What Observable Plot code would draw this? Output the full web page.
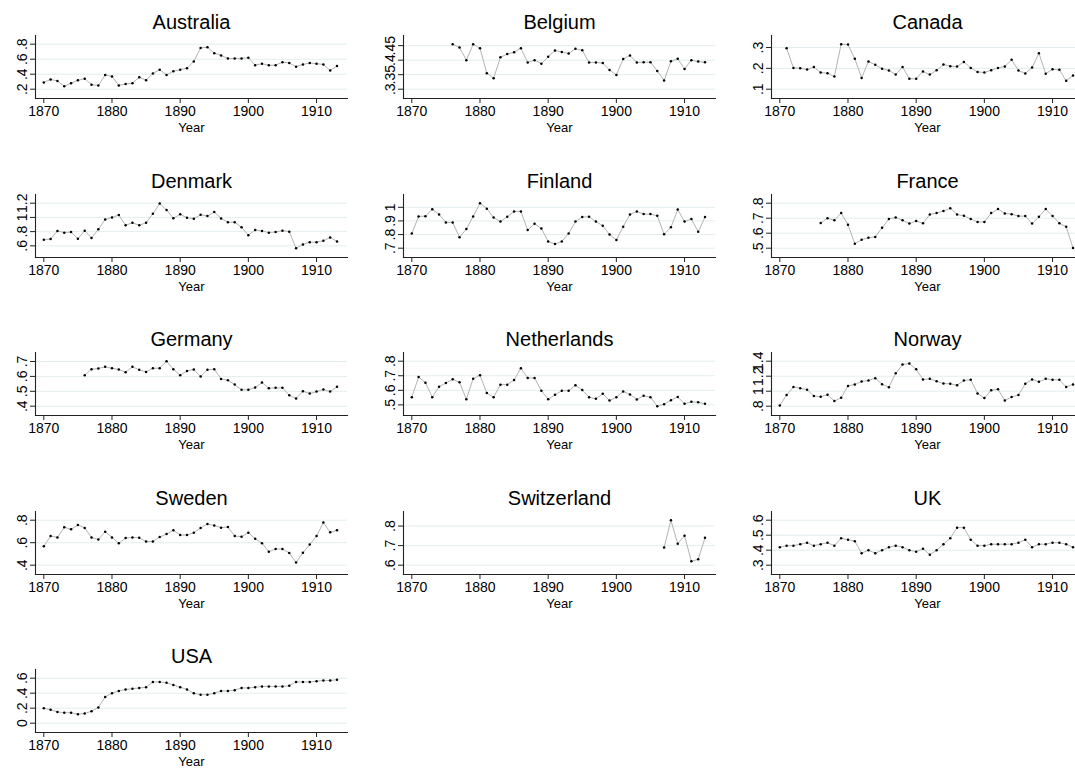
<!DOCTYPE html>
<html>
<head>
<meta charset="utf-8">
<script src="https://cdn.jsdelivr.net/npm/d3@7"></script>
<script src="https://cdn.jsdelivr.net/npm/@observablehq/plot@0.6"></script>
<style>
  html, body { margin: 0; padding: 0; background: #fff; }
  #chart { position: relative; width: 1075px; height: 768px; overflow: hidden; background: #fff; }
  .panel { position: absolute; width: 368px; height: 145px; }
  .panel svg { max-width: none !important; display: block; }
</style>
</head>
<body>
<div id="chart"></div>
<script>
const years = [1870,1871,1872,1873,1874,1875,1876,1877,1878,1879,
               1880,1881,1882,1883,1884,1885,1886,1887,1888,1889,
               1890,1891,1892,1893,1894,1895,1896,1897,1898,1899,
               1900,1901,1902,1903,1904,1905,1906,1907,1908,1909,
               1910,1911,1912,1913];
const xTicks = [1870, 1880, 1890, 1900, 1910];
const countries = ["Australia","Belgium","Canada","Denmark","Finland","France",
                   "Germany","Netherlands","Norway","Sweden","Switzerland","UK","USA"];

const australia = [.29,.33,.31,.24,.28,.32,.34,.26,.25,.39,
                   .37,.25,.27,.28,.36,.32,.41,.46,.39,.44,
                   .46,.48,.57,.75,.76,.68,.65,.61,.61,.61,
                   .62,.52,.54,.52,.52,.56,.55,.50,.53,.55,
                   .54,.53,.45,.51];
const belgium = [null,null,null,null,null,null,.455,.444,.40,.455,
                 .441,.355,.338,.41,.421,.427,.441,.392,.40,.388,
                 .412,.433,.428,.423,.439,.434,.392,.392,.39,.366,
                 .349,.404,.416,.392,.393,.393,.363,.33,.396,.405,
                 .37,.40,.395,.393];
const canada = [null,.297,.202,.201,.194,.206,.18,.177,.161,.316,
                .314,.246,.154,.233,.217,.198,.19,.17,.207,.15,
                .15,.185,.17,.191,.218,.21,.209,.231,.202,.183,
                .18,.191,.202,.209,.241,.19,.175,.204,.273,.174,
                .196,.193,.14,.166];
const denmark = [.686,.695,.81,.786,.795,.70,.814,.71,.833,.971,
                 1.0,1.033,.89,.924,.89,.924,1.052,1.195,1.105,.99,
                 1.043,.995,.981,1.038,1.019,1.076,.986,.933,.933,.862,
                 .75,.824,.81,.786,.795,.814,.80,.567,.62,.652,
                 .652,.671,.719,.662];
const finland = [.808,.933,.935,.985,.948,.888,.888,.78,.84,.933,
                 1.03,.99,.925,.895,.93,.97,.97,.833,.88,.845,
                 .75,.73,.75,.808,.895,.928,.93,.895,.865,.80,
                 .76,.858,.948,.97,.95,.95,.938,.803,.853,.983,
                 .895,.915,.82,.928];
const france = [null,null,null,null,null,null,.668,.70,.686,.734,
                .657,.53,.557,.57,.575,.636,.695,.705,.686,.664,
                .682,.666,.725,.734,.748,.766,.725,.716,.695,.675,
                .675,.734,.761,.732,.727,.714,.714,.664,.709,.761,
                .714,.666,.643,.502];
const germany = [null,null,null,null,null,null,.608,.648,.653,.664,
                 .655,.646,.628,.664,.644,.63,.655,.655,.702,.648,
                 .608,.637,.646,.599,.644,.648,.583,.574,.545,.51,
                 .51,.525,.559,.521,.523,.523,.474,.451,.50,.485,
                 .498,.512,.498,.53];
const netherlands = [.553,.692,.652,.553,.625,.65,.676,.655,.539,.68,
                     .703,.581,.553,.639,.639,.671,.752,.685,.685,.597,
                     .539,.569,.597,.597,.634,.602,.553,.542,.576,.53,
                     .553,.592,.572,.537,.562,.553,.491,.505,.532,.555,
                     .507,.521,.518,.507];
const norway = [.809,.949,1.057,1.039,1.021,.935,.926,.953,.868,.913,
                1.071,1.089,1.129,1.143,1.174,1.093,1.053,1.238,1.355,1.368,
                1.292,1.156,1.165,1.134,1.102,1.098,1.08,1.143,1.152,.971,
                .908,1.012,1.026,.877,.922,.949,1.098,1.156,1.125,1.165,
                1.152,1.152,1.057,1.09];
const sweden = [.568,.659,.647,.737,.719,.758,.731,.647,.629,.698,
                .647,.595,.641,.647,.644,.611,.611,.65,.677,.71,
                .668,.668,.689,.731,.767,.752,.734,.74,.659,.653,
                .689,.635,.595,.52,.544,.544,.508,.424,.511,.583,
                .659,.779,.692,.71];
const switzerland = [null,null,null,null,null,null,null,null,null,null,
                     null,null,null,null,null,null,null,null,null,null,
                     null,null,null,null,null,null,null,null,null,null,
                     null,null,null,null,null,null,null,.69,.83,.71,
                     .75,.62,.63,.74];
const uk = [.42,.43,.43,.44,.45,.43,.44,.45,.43,.48,
            .47,.46,.38,.40,.38,.40,.42,.43,.42,.40,
            .39,.41,.37,.40,.44,.48,.55,.55,.47,.43,
            .43,.44,.44,.44,.44,.45,.47,.42,.44,.44,
            .45,.45,.44,.42];
const usa = [.20,.18,.15,.14,.14,.12,.13,.16,.21,.35,
             .40,.43,.45,.46,.47,.48,.55,.55,.54,.51,
             .48,.45,.40,.38,.38,.40,.43,.43,.44,.47,
             .47,.48,.49,.49,.49,.49,.50,.55,.55,.55,
             .56,.57,.57,.58];

const yTicksAustralia = [.2,.4,.6,.8];
const yTicksBelgium = [.3,.35,.4,.45];
const yTicksCanada = [.1,.2,.3];
const yTicksDenmark = [.6,.8,1,1.2];
const yTicksFinland = [.7,.8,.9,1];
const yTicksFrance = [.5,.6,.7,.8];
const yTicksGermany = [.4,.5,.6,.7];
const yTicksNetherlands = [.5,.6,.7,.8];
const yTicksNorway = [.8,1,1.2,1.4];
const yTicksSweden = [.4,.6,.8];
const yTicksSwitzerland = [.6,.7,.8];
const yTicksUK = [.3,.4,.5,.6];
const yTicksUSA = [0,.2,.4,.6];

const series = [australia, belgium, canada, denmark, finland, france, germany,
                netherlands, norway, sweden, switzerland, uk, usa];
const yTicks = [yTicksAustralia, yTicksBelgium, yTicksCanada, yTicksDenmark, yTicksFinland,
                yTicksFrance, yTicksGermany, yTicksNetherlands, yTicksNorway, yTicksSweden,
                yTicksSwitzerland, yTicksUK, yTicksUSA];

const FONT = "'Liberation Sans', Arial, Helvetica, sans-serif";
const fmt = d => {
  const s = String(+(+d).toFixed(3));
  return s.replace(/^0\./, ".").replace(/^-0\./, "-.");
};

const PANEL_W = 368, ROW_H = 158.5;
const chart = document.getElementById("chart");

countries.forEach((name, i) => {
  const vals = series[i];
  const data = years.map((y, j) => ({year: y, value: vals[j]})).filter(d => d.value != null);
  const ticks = yTicks[i];
  const lo = Math.min(d3.min(data, d => d.value), ticks[0]);
  const hi = Math.max(d3.max(data, d => d.value), ticks[ticks.length - 1]);
  const svg = Plot.plot({
    width: PANEL_W,
    height: 145,
    marginLeft: 35,
    marginRight: 21,
    marginTop: 35,
    marginBottom: 47,
    style: {fontFamily: FONT, background: "transparent", color: "#000", overflow: "visible", maxWidth: "none"},
    x: {domain: [1870, 1913], insetLeft: 8.3, insetRight: 10.5},
    y: {domain: [lo, hi], insetTop: 8.7, insetBottom: 9.3},
    marks: [
      Plot.gridY(ticks, {stroke: "#e3edef", strokeOpacity: 1, strokeWidth: 1}),
      Plot.line(data, {x: "year", y: "value", stroke: "#b3b3b3", strokeWidth: 1}),
      Plot.dot(data, {x: "year", y: "value", r: 1.25, fill: "#000", stroke: "none"}),
      Plot.frame({anchor: "left", stroke: "#222", strokeWidth: 1.1}),
      Plot.frame({anchor: "bottom", stroke: "#222", strokeWidth: 1.1}),
      Plot.axisY(ticks, {tickFormat: fmt, tickRotate: -90, fontSize: 14, tickSize: 5,
                         tickPadding: 4, label: null, stroke: "#222", fill: "#000"}),
      Plot.axisX(xTicks, {tickFormat: d => String(d), fontSize: 14, tickSize: 5, tickPadding: 3,
                          label: null, stroke: "#222", fill: "#000"}),
      Plot.text(["Year"], {frameAnchor: "bottom", dy: 33, lineAnchor: "bottom", fontSize: 13, fill: "#000"}),
      Plot.text([name], {frameAnchor: "top", dy: -6.7, lineAnchor: "bottom", fontSize: 20, fill: "#000"})
    ]
  });
  const row = Math.floor(i / 3), col = i % 3;
  const wrap = document.createElement("div");
  wrap.className = "panel";
  wrap.style.left = (col * PANEL_W) + "px";
  wrap.style.top = (row * ROW_H) + "px";
  wrap.appendChild(svg);
  chart.appendChild(wrap);
});
</script>
</body>
</html>
